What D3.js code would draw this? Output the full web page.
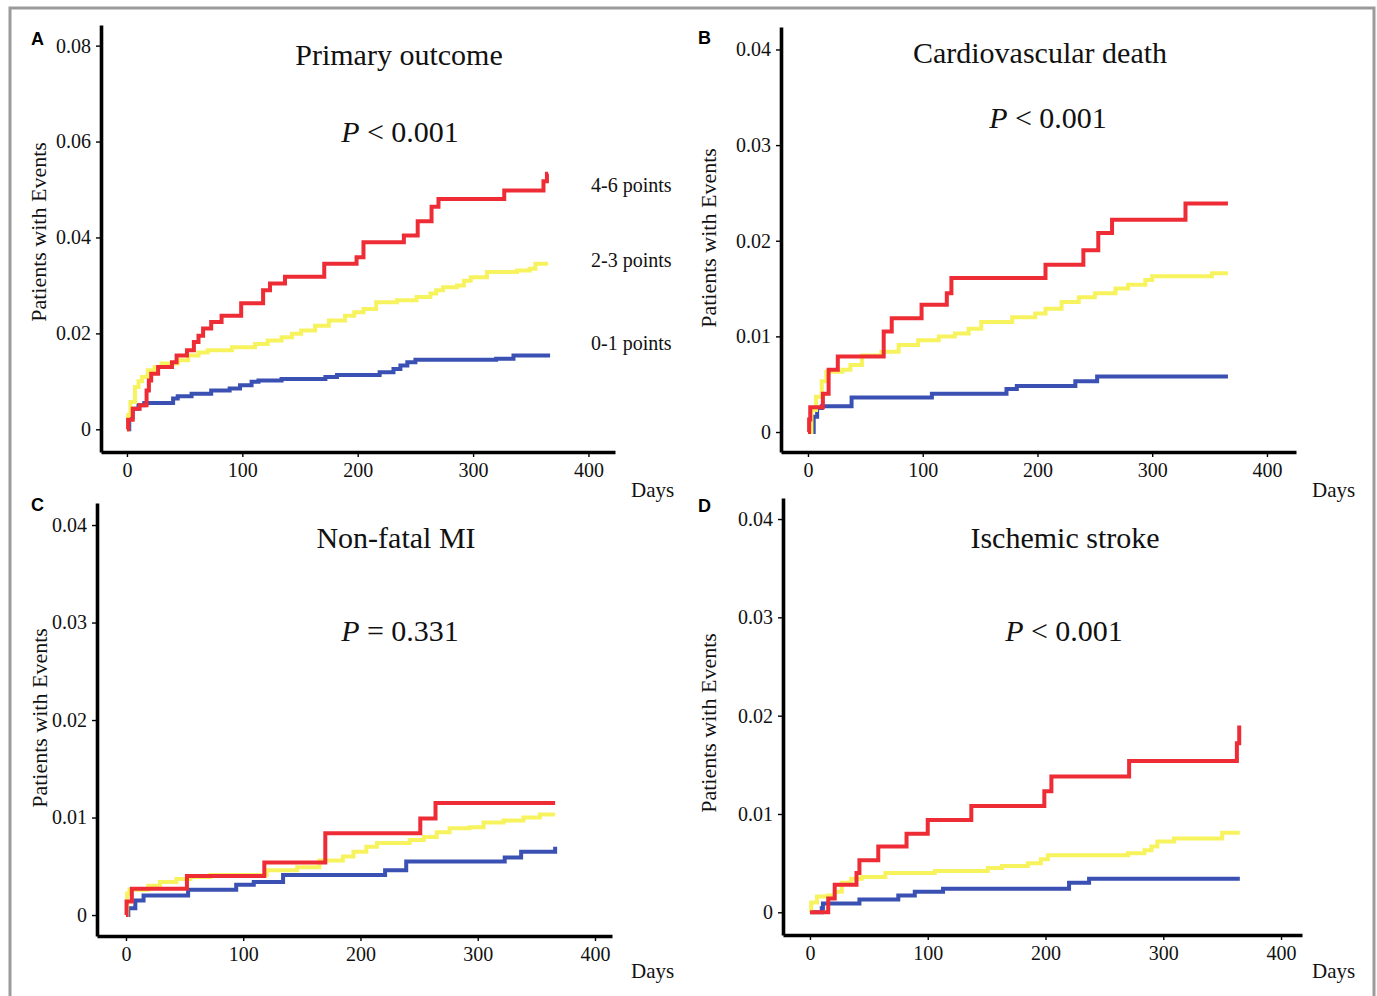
<!DOCTYPE html>
<html>
<head>
<meta charset="utf-8">
<script src="https://cdn.jsdelivr.net/npm/d3@7"></script>
<style>
  html, body { margin: 0; padding: 0; background: #fff; }
  svg { display: block; }
  text { font-family: "Liberation Serif", "Times New Roman", serif; fill: #111; }
  text.letter { font-family: "Liberation Sans", Arial, sans-serif; font-weight: bold; fill: #000; }
</style>
</head>
<body>
<svg id="chart" width="1377" height="996"></svg>
<script>
// ---------------- DATA ----------------
const groups = ["4-6 points", "2-3 points", "0-1 points"];
const xTickValues = [0, 100, 200, 300, 400];
const yTicksA = [0, 0.02, 0.04, 0.06, 0.08];
const yTicksBCD = [0, 0.01, 0.02, 0.03, 0.04];
const titles = ["Primary outcome", "Cardiovascular death", "Non-fatal MI", "Ischemic stroke"];
const pValues = ["< 0.001", "< 0.001", "= 0.331", "< 0.001"];
const panelLetters = ["A", "B", "C", "D"];

// [day, cumulative proportion with events]
const primaryHigh = [[0,0],[1,0.002],[5,0.0043],[11,0.005],[17,0.0081],[19,0.0102],[21,0.0116],[27,0.013],[39,0.014],[43,0.0154],[52,0.0165],[58,0.0182],[62,0.0195],[66,0.021],[73,0.0224],[82,0.0237],[99,0.0263],[118,0.029],[124,0.0304],[137,0.0318],[171,0.0345],[199,0.0359],[205,0.039],[240,0.0404],[252,0.0434],[264,0.0464],[270,0.048],[327,0.0498],[361,0.0517],[364,0.0533],[365,0.0533]];
const primaryMid = [[0,0],[1,0.003],[3,0.0057],[7,0.0088],[10,0.01],[13,0.0109],[18,0.0123],[24,0.013],[30,0.0137],[44,0.0144],[53,0.0154],[62,0.016],[70,0.0165],[91,0.0171],[111,0.0178],[122,0.0185],[134,0.0192],[143,0.0199],[151,0.0206],[163,0.0216],[175,0.0227],[189,0.0237],[197,0.0244],[205,0.0251],[216,0.0265],[234,0.0269],[251,0.0276],[263,0.0283],[268,0.029],[274,0.0296],[286,0.03],[292,0.031],[298,0.0317],[312,0.0328],[338,0.0331],[349,0.0335],[354,0.0345],[365,0.0345]];
const primaryLow = [[0,0],[2,0.0026],[5,0.0043],[10,0.005],[15,0.0055],[40,0.0064],[44,0.0069],[56,0.0074],[73,0.0081],[89,0.0085],[98,0.0092],[108,0.0099],[114,0.0102],[134,0.0105],[172,0.0109],[182,0.0113],[219,0.0119],[231,0.0126],[237,0.0133],[243,0.014],[250,0.0145],[320,0.0147],[335,0.0154],[365,0.0158]];

const cvHigh = [[0,0],[1,0.0013],[2,0.0026],[13,0.004],[18,0.0065],[26,0.0079],[66,0.0105],[73,0.0119],[99,0.0133],[121,0.0145],[125,0.0161],[207,0.0175],[240,0.019],[253,0.0208],[265,0.0222],[329,0.0239],[366,0.0239]];
const cvMid = [[0,0],[3,0.0023],[7,0.0037],[12,0.0053],[16,0.0063],[30,0.0065],[37,0.007],[47,0.008],[64,0.0084],[79,0.0091],[96,0.0096],[114,0.01],[128,0.0103],[140,0.0108],[151,0.0115],[178,0.012],[198,0.0124],[207,0.0129],[221,0.0136],[236,0.0141],[250,0.0145],[268,0.015],[279,0.0154],[294,0.0159],[300,0.0163],[352,0.0166],[366,0.0166]];
const cvLow = [[0,0],[5,0.0016],[8,0.0025],[12,0.0027],[38,0.0036],[108,0.004],[173,0.0045],[182,0.0048],[233,0.0053],[252,0.0058],[366,0.0058]];

const miHigh = [[0,0],[0.5,0.0014],[5,0.0027],[52,0.004],[118,0.0054],[170,0.0084],[251,0.0099],[264,0.0115],[366,0.0115]];
const miMid = [[0,0],[1,0.0022],[3,0.0026],[19,0.003],[29,0.0034],[43,0.0037],[55,0.0039],[72,0.0041],[120,0.0046],[146,0.0049],[165,0.0056],[185,0.006],[194,0.0065],[205,0.007],[214,0.0074],[242,0.0077],[254,0.008],[265,0.0085],[276,0.0089],[293,0.009],[305,0.0095],[322,0.0097],[339,0.01],[353,0.0103],[366,0.0103]];
const miLow = [[0,0],[2,0.0007],[8,0.0015],[15,0.002],[53,0.0026],[94,0.0031],[109,0.0034],[134,0.0041],[221,0.0046],[239,0.0055],[323,0.0059],[337,0.0065],[365,0.0065],[366,0.007]];

const strokeHigh = [[0,0],[15.5,0.0014],[21,0.0028],[39.5,0.004],[42,0.0053],[58,0.0067],[82,0.008],[100,0.0094],[137,0.0108],[199,0.0123],[205,0.0138],[271,0.0154],[362.5,0.0172],[364.5,0.019]];
const strokeMid = [[0,0],[1,0.001],[6,0.0016],[15,0.0017],[21,0.0021],[27,0.003],[35,0.0034],[44,0.0036],[64,0.004],[106,0.0042],[151,0.0045],[163,0.0047],[185,0.005],[196,0.0054],[202,0.0058],[270,0.006],[284,0.0063],[290,0.0067],[295,0.0072],[309,0.0075],[350,0.0081],[365,0.0081]];
const strokeLow = [[0,0],[10,0.0004],[11,0.0009],[42,0.0013],[75,0.0017],[89,0.0021],[113,0.0024],[220,0.003],[237,0.0034],[365,0.0034]];

// ---------------- LAYOUT / STYLE ----------------
const colors = { "4-6 points": "#ee2c36", "2-3 points": "#f7f35e", "0-1 points": "#3a50b2" };
const drawOrder = ["0-1 points", "2-3 points", "4-6 points"];
const legendY = { "4-6 points": 192, "2-3 points": 267, "0-1 points": 350 };

const panels = [
  { series: { "4-6 points": primaryHigh, "2-3 points": primaryMid, "0-1 points": primaryLow }, yTicks: yTicksA,
    xDom: [-22.5, 423], xRange: [101, 615], yDom: [-0.00473, 0.0843], yRange: [452, 25],
    title: [399, 65], p: [400, 142], letter: [31, 45], ylab: [46, 232], days: [631, 497], legend: true },
  { series: { "4-6 points": cvHigh, "2-3 points": cvMid, "0-1 points": cvLow }, yTicks: yTicksBCD,
    xDom: [-23.5, 425.3], xRange: [781, 1296], yDom: [-0.00209, 0.04235], yRange: [452, 27],
    title: [1040, 63], p: [1048, 128], letter: [698, 44], ylab: [716, 238], days: [1312, 497] },
  { series: { "4-6 points": miHigh, "2-3 points": miMid, "0-1 points": miLow }, yTicks: yTicksBCD,
    xDom: [-24.7, 414.5], xRange: [97, 612], yDom: [-0.00215, 0.04226], yRange: [936, 503],
    title: [396, 548], p: [400, 641], letter: [31, 511], ylab: [47, 718], days: [631, 978] },
  { series: { "4-6 points": strokeHigh, "2-3 points": strokeMid, "0-1 points": strokeLow }, yTicks: yTicksBCD,
    xDom: [-22.9, 417.8], xRange: [783, 1302], yDom: [-0.00231, 0.04214], yRange: [935, 498],
    title: [1065, 548], p: [1064, 641], letter: [698, 512], ylab: [716, 723], days: [1312, 978] }
];

const svg = d3.select("#chart");
svg.append("rect").attr("x", 0).attr("y", 0).attr("width", 1377).attr("height", 996).attr("fill", "#fff");
svg.append("rect").attr("x", 10).attr("y", 8).attr("width", 1364).attr("height", 1000)
  .attr("fill", "none").attr("stroke", "#9b9b9b").attr("stroke-width", 3);

const fmtY = v => v === 0 ? "0" : d3.format(".2f")(v);

panels.forEach((pc, i) => {
  const g = svg.append("g");
  const x = d3.scaleLinear().domain(pc.xDom).range(pc.xRange);
  const y = d3.scaleLinear().domain(pc.yDom).range(pc.yRange);

  // axes
  const xAxis = g.append("g").attr("transform", `translate(0,${pc.yRange[0]})`)
    .call(d3.axisBottom(x).tickValues(xTickValues).tickSize(5).tickSizeOuter(0).tickPadding(6));
  const yAxis = g.append("g").attr("transform", `translate(${pc.xRange[0]},0)`)
    .call(d3.axisLeft(y).tickValues(pc.yTicks).tickFormat(fmtY).tickSize(5).tickSizeOuter(0).tickPadding(5));
  [xAxis, yAxis].forEach(ax => {
    ax.select(".domain").attr("stroke", "#000").attr("stroke-width", 3.6);
    ax.selectAll(".tick line").attr("stroke", "#000").attr("stroke-width", 1.4);
    ax.selectAll(".tick text").attr("font-size", 20).style("fill", "#111");
  });

  // curves
  const line = d3.line().x(d => x(d[0])).y(d => y(d[1])).curve(d3.curveStepAfter);
  drawOrder.forEach(k => {
    g.append("path").datum(pc.series[k]).attr("d", line)
      .attr("fill", "none").attr("stroke", colors[k]).attr("stroke-width", 4)
      .attr("stroke-linejoin", "miter");
  });

  // texts
  g.append("text").attr("x", pc.title[0]).attr("y", pc.title[1]).attr("text-anchor", "middle")
    .attr("font-size", 30).text(titles[i]);
  const pt = g.append("text").attr("x", pc.p[0]).attr("y", pc.p[1]).attr("text-anchor", "middle").attr("font-size", 30);
  pt.append("tspan").attr("font-style", "italic").text("P");
  pt.append("tspan").text(" " + pValues[i]);

  g.append("text").attr("class", "letter").attr("x", pc.letter[0]).attr("y", pc.letter[1])
    .attr("font-size", 18).text(panelLetters[i]);

  g.append("text").attr("transform", `translate(${pc.ylab[0]},${pc.ylab[1]}) rotate(-90)`)
    .attr("text-anchor", "middle").attr("font-size", 22).text("Patients with Events");

  g.append("text").attr("x", pc.days[0]).attr("y", pc.days[1]).attr("font-size", 21).text("Days");

  if (pc.legend) {
    groups.forEach(k => {
      g.append("text").attr("x", 591).attr("y", legendY[k]).attr("font-size", 20).text(k);
    });
  }
});
</script>
</body>
</html>
